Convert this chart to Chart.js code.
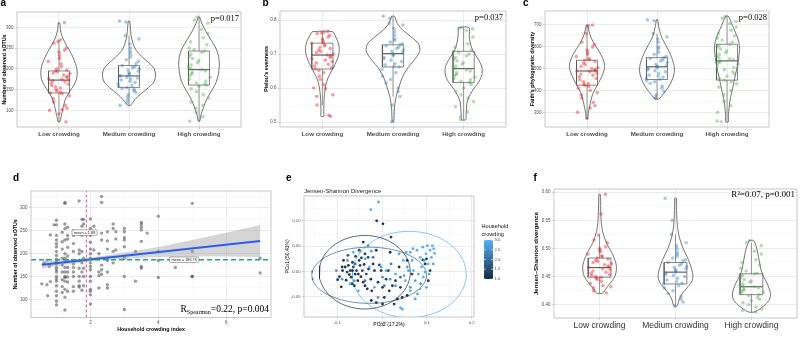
<!DOCTYPE html>
<html>
<head>
<meta charset="utf-8">
<script src="https://cdn.jsdelivr.net/npm/chart.js@4.4.0/dist/chart.umd.min.js"></script>
<style>
  body { margin: 0; background: #fff; }
  #wrap { position: relative; width: 800px; height: 341px; overflow: hidden; background: #fff; }
  canvas { position: absolute; }
</style>
</head>
<body>
<div id="wrap">
  <canvas id="chart-a" width="262" height="170" style="left:0px;top:0px"></canvas>
  <canvas id="chart-b" width="266" height="170" style="left:262px;top:0px"></canvas>
  <canvas id="chart-c" width="279" height="170" style="left:521px;top:0px"></canvas>
  <canvas id="chart-d" width="284" height="171" style="left:0px;top:170px"></canvas>
  <canvas id="chart-e" width="246" height="171" style="left:284px;top:170px"></canvas>
  <canvas id="chart-f" width="270" height="171" style="left:530px;top:170px"></canvas>
</div>
<script>
const groups = ["Low crowding", "Medium crowding", "High crowding"];

// ---------- a: number of observed sOTUs
const otusLow = [311, 270, 266, 262, 250, 245, 240, 232, 225, 218, 212, 205, 200, 197, 195, 193, 190, 188, 185, 182, 180, 177, 175, 173, 171, 169, 166, 163, 160, 157, 154, 150, 147, 144, 142, 140, 135, 128, 120, 112, 105, 102, 100, 92, 72];
const otusMedium = [315, 313, 280, 272, 260, 250, 242, 235, 228, 222, 218, 212, 208, 205, 203, 200, 197, 194, 190, 188, 186, 184, 182, 180, 178, 176, 173, 170, 167, 164, 160, 158, 155, 153, 150, 147, 143, 138, 132, 125, 118, 112];
const otusHigh = [325, 318, 310, 295, 285, 275, 265, 258, 250, 246, 243, 240, 235, 230, 225, 220, 215, 210, 205, 201, 198, 195, 192, 188, 184, 180, 175, 170, 166, 163, 161, 158, 152, 145, 138, 130, 120, 112, 105, 95, 85, 74];
const otusBox = [[142, 173, 195], [155, 183, 208], [161, 198, 243]];
const otusViolin = [
  [[311, 0.01], [295, 0.02], [280, 0.04], [265, 0.08], [250, 0.13], [235, 0.18], [220, 0.22], [205, 0.25], [190, 0.26], [175, 0.25], [160, 0.21], [145, 0.15], [130, 0.1], [115, 0.07], [100, 0.05], [85, 0.03], [72, 0.01]],
  [[315, 0.01], [300, 0.02], [280, 0.03], [260, 0.06], [245, 0.1], [230, 0.18], [215, 0.28], [200, 0.36], [185, 0.38], [170, 0.36], [155, 0.28], [140, 0.17], [125, 0.08], [112, 0.02]],
  [[325, 0.01], [310, 0.04], [290, 0.1], [270, 0.17], [250, 0.24], [230, 0.28], [210, 0.29], [190, 0.28], [170, 0.25], [150, 0.19], [130, 0.12], [110, 0.07], [90, 0.03], [74, 0.01]]
];
const otusTicks = [100, 150, 200, 250, 300];
const otusMinor = [75, 125, 175, 225, 275, 325];

// ---------- b: Pielou's evenness
const evenLow = [0.766, 0.764, 0.762, 0.76, 0.755, 0.75, 0.745, 0.74, 0.735, 0.732, 0.728, 0.724, 0.72, 0.716, 0.712, 0.708, 0.704, 0.70, 0.697, 0.694, 0.69, 0.686, 0.682, 0.678, 0.674, 0.67, 0.665, 0.66, 0.656, 0.652, 0.645, 0.635, 0.625, 0.61, 0.60, 0.598, 0.58, 0.575, 0.55, 0.52, 0.517];
const evenMedium = [0.811, 0.805, 0.79, 0.785, 0.775, 0.765, 0.755, 0.745, 0.74, 0.735, 0.73, 0.727, 0.724, 0.72, 0.716, 0.712, 0.708, 0.704, 0.701, 0.698, 0.695, 0.69, 0.686, 0.682, 0.678, 0.672, 0.668, 0.664, 0.662, 0.655, 0.645, 0.635, 0.625, 0.615, 0.60, 0.59, 0.575, 0.55, 0.501];
const evenHigh = [0.778, 0.776, 0.774, 0.77, 0.75, 0.73, 0.72, 0.712, 0.708, 0.705, 0.70, 0.695, 0.69, 0.685, 0.68, 0.675, 0.67, 0.665, 0.66, 0.657, 0.654, 0.65, 0.645, 0.64, 0.636, 0.632, 0.628, 0.624, 0.62, 0.616, 0.61, 0.60, 0.59, 0.58, 0.57, 0.56, 0.545, 0.53, 0.515, 0.507];
const evenBox = [[0.656, 0.697, 0.732], [0.662, 0.701, 0.727], [0.616, 0.657, 0.708]];
const evenViolin = [
  [[0.766, 0.14], [0.75, 0.19], [0.73, 0.23], [0.71, 0.24], [0.69, 0.22], [0.67, 0.18], [0.65, 0.13], [0.63, 0.08], [0.61, 0.05], [0.59, 0.035], [0.57, 0.025], [0.55, 0.022], [0.53, 0.02], [0.517, 0.02]],
  [[0.811, 0.02], [0.79, 0.06], [0.77, 0.14], [0.75, 0.26], [0.73, 0.36], [0.71, 0.38], [0.69, 0.33], [0.67, 0.25], [0.65, 0.18], [0.63, 0.13], [0.60, 0.08], [0.57, 0.04], [0.54, 0.02], [0.501, 0.01]],
  [[0.778, 0.075], [0.75, 0.08], [0.72, 0.11], [0.70, 0.16], [0.68, 0.22], [0.66, 0.26], [0.64, 0.26], [0.62, 0.22], [0.60, 0.15], [0.58, 0.09], [0.56, 0.05], [0.54, 0.04], [0.52, 0.035], [0.507, 0.03]]
];
const evenTicks = [0.5, 0.6, 0.7, 0.8];
const evenMinor = [0.55, 0.65, 0.75];

// ---------- c: Faith's phylogenetic diversity
const faithLow = [699, 695, 660, 620, 610, 598, 585, 575, 565, 555, 545, 540, 538, 532, 525, 518, 510, 505, 500, 495, 492, 489, 485, 480, 475, 470, 462, 455, 448, 440, 432, 428, 424, 418, 410, 400, 390, 380, 365, 345, 330, 320, 300, 272];
const faithMedium = [723, 718, 660, 645, 635, 620, 600, 590, 575, 565, 555, 550, 546, 540, 535, 528, 520, 514, 510, 508, 505, 500, 495, 490, 485, 478, 470, 465, 460, 455, 450, 446, 440, 432, 420, 410, 395, 380, 370, 362];
const faithHigh = [739, 730, 715, 705, 690, 675, 660, 650, 640, 630, 620, 611, 605, 598, 590, 580, 572, 565, 558, 550, 545, 540, 535, 530, 525, 520, 512, 505, 495, 485, 475, 465, 455, 447, 440, 430, 415, 400, 380, 350, 330, 300, 260, 257];
const faithBox = [[424, 489, 538], [450, 508, 550], [447, 535, 611]];
const faithViolin = [
  [[699, 0.01], [670, 0.03], [640, 0.06], [610, 0.11], [580, 0.17], [550, 0.22], [520, 0.25], [500, 0.25], [480, 0.23], [450, 0.19], [420, 0.14], [390, 0.09], [360, 0.06], [330, 0.04], [300, 0.02], [272, 0.01]],
  [[723, 0.01], [700, 0.02], [670, 0.04], [640, 0.07], [610, 0.12], [580, 0.17], [550, 0.21], [520, 0.24], [490, 0.25], [460, 0.23], [430, 0.19], [400, 0.13], [380, 0.08], [362, 0.03]],
  [[739, 0.02], [710, 0.06], [680, 0.1], [650, 0.14], [620, 0.17], [590, 0.18], [560, 0.17], [530, 0.16], [500, 0.14], [470, 0.12], [440, 0.1], [410, 0.08], [380, 0.06], [350, 0.04], [320, 0.03], [290, 0.02], [257, 0.02]]
];
const faithTicks = [300, 400, 500, 600, 700];
const faithMinor = [250, 350, 450, 550, 650, 750];

// ---------- d: sOTUs vs household crowding index
const crowdIndexLevels = [0.57, 0.64, 0.72, 0.74, 0.79, 0.82, 0.93, 1, 1.17, 1.25, 1.33, 1.5, 1.67, 1.75, 1.8, 2, 2.1, 2.25, 2.33, 2.5, 2.67, 2.75, 3, 3.33, 3.5, 3.67, 4, 4.5, 5, 7];
const otusAtLevel = [
  [134], [179], [132, 186], [108], [172], [241, 139], [263],
  [273, 263, 240, 230, 222, 215, 205, 196, 188, 183, 178, 170, 165, 160, 150, 145, 140, 130, 118, 108, 96, 88],
  [247, 226, 210, 190, 175, 160, 143, 128, 115],
  [312, 310, 265, 255, 230, 200, 190, 182, 170, 160, 150, 148, 140, 122, 105, 77],
  [258, 240, 232, 214, 195, 186, 170, 160, 149, 138, 118],
  [250, 240, 222, 205, 178, 170, 160, 150, 128, 118],
  [315, 208, 200, 185, 168, 150, 140, 130, 127],
  [275, 260, 240, 205, 180, 160, 120],
  [275, 265, 245, 190, 168, 150, 130],
  [276, 255, 240, 225, 210, 200, 190, 180, 172, 165, 150, 140, 122, 118, 110, 90],
  [260, 208], [200, 160, 152, 125], [325, 312, 245, 230, 175, 165, 155],
  [248, 228, 210, 190, 185, 160, 132, 125], [265, 255, 205, 180], [248, 232, 208],
  [255, 248, 235, 230, 215, 190, 150, 78], [140, 205], [268, 264, 258, 252, 227, 172, 168],
  [245], [282, 205, 185, 148], [170], [310, 205, 150, 150], [190, 158]
];
const fitX = [0.57, 7];
const fitY = [175.8, 227.9];
const bandX = [0.57, 1, 1.5, 2, 2.5, 3, 4, 5, 6, 7];
const bandLo = [168.3, 173.3, 178.4, 182.9, 186.5, 189, 192.6, 193.7, 193.8, 192.9];
const bandHi = [183.3, 185.3, 188.4, 191.9, 196.5, 202, 214.6, 229.7, 245.8, 262.9];
const meanIndex = 1.88;
const meanOtus = 186.76;

// ---------- e: PCoA, Jensen-Shannon divergence
const pco2 = [
  -0.012, 0.002, 0.020, -0.099, -0.091, -0.095, -0.088, -0.082, -0.078, -0.075,
  -0.071, -0.069, -0.066, -0.064, -0.060, -0.059, -0.057, -0.054, -0.051, -0.049,
  -0.047, -0.046, -0.044, -0.042, -0.040, -0.038, -0.035, -0.031, -0.030, -0.025,
  -0.023, -0.020, -0.017, -0.013, -0.009, -0.006, -0.002, 0.001, 0.005, 0.009,
  0.014, 0.018, 0.023, 0.027, 0.030, 0.038, 0.041, 0.045, 0.056, 0.067,
  0.099, 0.096, 0.091, 0.107, 0.103, 0.056, -0.086, -0.076, -0.067, -0.062,
  -0.053, -0.042, -0.033, -0.024, -0.013, -0.038, -0.051, -0.066, -0.073, -0.080,
  -0.089, 0.016, 0.001, 0.034,
  -0.008, -0.025, -0.102, -0.089, -0.077, -0.071, -0.064, -0.062, -0.053, -0.049,
  -0.038, -0.031, -0.028, -0.024, -0.017, -0.009, -0.002, 0.049, 0.052, 0.056,
  0.063, 0.063, 0.067, 0.070, 0.074, 0.078, 0.081, 0.085, 0.086, 0.088,
  0.091, 0.092, 0.094, 0.096, 0.098, 0.099, 0.101, 0.103, 0.105, 0.107,
  0.110, 0.112, 0.114, 0.115, 0.117, 0.079, 0.085, 0.074, 0.063, 0.045,
  0.041, 0.030, 0.018, 0.009, 0.001, 0.038, 0.047, 0.054, 0.059, 0.069,
  0.030,
  -0.038, -0.020, 0.020, 0.041, 0.005, -0.060
];
const pco1 = [
  0.100, 0.094, 0.068, -0.016, -0.030, -0.010, 0.002, 0.009, -0.001, 0.012,
  0.002, -0.011, 0.018, 0.009, -0.005, 0.030, 0.002, -0.018, 0.022, 0.012,
  -0.010, 0.027, 0.002, 0.058, 0.014, -0.028, -0.005, 0.028, 0.005, -0.015,
  -0.038, 0.015, 0.002, 0.042, -0.021, 0.013, 0.002, -0.031, -0.051, -0.015,
  0.002, 0.038, -0.028, -0.064, -0.018, 0.009, -0.031, -0.051, 0.022, -0.005,
  0.025, 0.015, 0.023, 0.002, -0.018, -0.047, 0.022, 0.032, -0.024, -0.028,
  -0.005, -0.021, -0.034, -0.057, -0.061, 0.035, 0.042, 0.002, -0.006, -0.017,
  0.009, -0.038, -0.064, -0.054,
  0.137, 0.122, 0.002, -0.015, 0.022, -0.024, 0.038, -0.018, -0.038, 0.040,
  0.025, 0.051, 0.009, 0.040, -0.031, -0.051, 0.009, -0.008, -0.018, 0.009,
  0.038, -0.031, 0.022, 0.002, -0.018, 0.042, -0.005, 0.028, -0.024, 0.009,
  0.048, -0.011, 0.022, -0.001, 0.035, -0.031, 0.051, 0.015, -0.005, 0.042,
  0.028, 0.051, 0.015, 0.045, 0.036, -0.044, -0.034, -0.054, -0.038, -0.074,
  -0.071, -0.028, -0.015, 0.002, -0.011, 0.035, 0.022, 0.038, 0.002, 0.045,
  -0.005,
  -0.018, 0.028, 0.015, -0.011, -0.028, 0.015
];
const pcoCrowding = [
  1.0, 1.0, 1.1, 1.0, 1.0, 1.2, 1.0, 1.0, 1.3, 1.0,
  1.0, 1.2, 1.0, 1.5, 1.0, 1.1, 1.0, 1.0, 1.0, 1.2,
  1.0, 1.0, 1.3, 1.0, 1.0, 1.0, 1.4, 1.2, 1.0, 1.0,
  1.0, 1.1, 1.0, 1.0, 1.0, 1.3, 1.0, 1.0, 1.0, 1.2,
  1.0, 1.0, 1.0, 1.0, 1.1, 1.0, 1.0, 1.0, 1.0, 1.2,
  1.0, 1.0, 1.1, 1.0, 1.0, 1.0, 1.0, 1.5, 1.0, 1.0,
  1.0, 1.0, 1.0, 1.0, 1.0, 1.0, 1.0, 1.0, 1.0, 1.0,
  1.0, 1.0, 1.0, 1.0,
  2.8, 2.9, 2.5, 2.7, 2.6, 2.8, 3.0, 2.6, 2.9, 2.7,
  2.8, 2.6, 3.0, 2.7, 2.9, 2.5, 2.8, 2.8, 3.0, 2.7,
  2.9, 2.6, 2.8, 3.0, 2.7, 2.9, 2.8, 3.0, 2.6, 2.9,
  2.8, 3.0, 2.7, 2.9, 3.0, 2.8, 2.9, 3.0, 2.8, 3.0,
  2.9, 3.0, 2.8, 3.0, 2.9, 2.8, 3.0, 2.7, 2.9, 2.8,
  3.0, 2.7, 2.6, 2.8, 2.5, 2.7, 2.9, 3.0, 2.6, 2.8,
  2.9,
  2.0, 2.0, 2.1, 2.0, 2.2, 1.9
];
// stat_ellipse per crowding level: centre, radii
const ellipseLevel = [1, 2, 3];
const ellipseCx = [-0.0385, -0.0287, 0.0608];
const ellipseCy = [-0.0013, -0.0073, -0.0057];
const ellipseRx = [0.1015, 0.1278, 0.1269];
const ellipseRy = [0.0724, 0.0553, 0.085];

// ---------- f: Jensen-Shannon divergence by group
const jsdLow = [0.596, 0.561, 0.524, 0.515, 0.51, 0.503, 0.50, 0.497, 0.494, 0.49, 0.487, 0.485, 0.483, 0.481, 0.479, 0.477, 0.475, 0.473, 0.471, 0.469, 0.467, 0.466, 0.464, 0.462, 0.46, 0.458, 0.456, 0.454, 0.452, 0.45, 0.449, 0.447, 0.445, 0.442, 0.438, 0.434, 0.432, 0.43, 0.425, 0.421];
const jsdMedium = [0.589, 0.55, 0.525, 0.51, 0.505, 0.50, 0.494, 0.49, 0.486, 0.483, 0.48, 0.478, 0.475, 0.473, 0.47, 0.468, 0.466, 0.464, 0.462, 0.46, 0.458, 0.456, 0.454, 0.452, 0.45, 0.447, 0.444, 0.441, 0.438, 0.437, 0.434, 0.43, 0.425, 0.42, 0.415, 0.41, 0.405, 0.398];
const jsdHigh = [0.514, 0.51, 0.505, 0.495, 0.49, 0.48, 0.475, 0.47, 0.465, 0.46, 0.456, 0.455, 0.452, 0.448, 0.445, 0.442, 0.44, 0.437, 0.435, 0.433, 0.432, 0.43, 0.428, 0.426, 0.424, 0.422, 0.42, 0.418, 0.416, 0.413, 0.41, 0.407, 0.404, 0.40, 0.396, 0.392, 0.39, 0.387];
const jsdBox = [[0.449, 0.466, 0.483], [0.437, 0.458, 0.475], [0.418, 0.432, 0.455]];
const jsdViolin = [
  [[0.596, 0.01], [0.57, 0.015], [0.55, 0.02], [0.53, 0.04], [0.51, 0.09], [0.50, 0.13], [0.49, 0.17], [0.48, 0.2], [0.47, 0.22], [0.46, 0.22], [0.45, 0.2], [0.44, 0.15], [0.43, 0.09], [0.421, 0.04]],
  [[0.589, 0.01], [0.56, 0.015], [0.54, 0.025], [0.52, 0.05], [0.50, 0.1], [0.48, 0.17], [0.46, 0.22], [0.45, 0.23], [0.44, 0.21], [0.43, 0.15], [0.42, 0.09], [0.41, 0.05], [0.398, 0.02]],
  [[0.514, 0.03], [0.50, 0.07], [0.48, 0.1], [0.46, 0.13], [0.45, 0.16], [0.44, 0.2], [0.43, 0.23], [0.42, 0.25], [0.41, 0.24], [0.40, 0.18], [0.39, 0.08], [0.387, 0.03]]
];
const jsdTicks = [0.40, 0.45, 0.50, 0.55, 0.60];
const jsdMinor = [0.425, 0.475, 0.525, 0.575];

/*
-------------------------------------------------------------------------
helpers
-------------------------------------------------------------------------
*/
const SANS = 'Arial, "Liberation Sans", sans-serif';
const SERIF = '"Liberation Serif", "Times New Roman", serif';
const groupColors = ["rgba(228,26,28,0.42)", "rgba(55,126,184,0.42)", "rgba(77,175,74,0.42)"];
const LOW_BLUE = [19, 43, 67];
const HIGH_BLUE = [86, 177, 247];

function crowdColor(c, a) {
  const t = Math.min(1, Math.max(0, (c - 1) / 2));
  const rgb = LOW_BLUE.map((v, k) => Math.round(v + (HIGH_BLUE[k] - v) * t));
  return "rgba(" + rgb.join(",") + "," + (a === undefined ? 1 : a) + ")";
}

// sideways spread of the points, like geom_jitter (fixed hash so every render is the same)
function jitter(i, g) {
  const h = Math.sin((i + 1) * 12.9898 + (g + 1) * 78.233) * 43758.5453;
  return (h - Math.floor(h) - 0.5) * 0.32;
}

function tickList(majors, minors) {
  return majors.map(v => ({ value: v }))
    .concat((minors || []).map(v => ({ value: v, minor: true })))
    .sort((a, b) => a.value - b.value);
}

const gridOpts = {
  color: c => (c.tick && c.tick.minor) ? "#f3f3f3" : "#e3e3e3",
  lineWidth: c => (c.tick && c.tick.minor) ? 0.5 : 0.7,
  tickLength: 2,
  tickColor: c => (c.tick && c.tick.minor) ? "rgba(0,0,0,0)" : "#b3b3b3",
  tickWidth: 0.6,
};

function axisY(o) {
  return {
    type: "linear",
    position: "left",
    min: o.min,
    max: o.max,
    afterBuildTicks: s => { s.ticks = tickList(o.majors, o.minors); },
    afterFit: s => { s.width = o.width; },
    ticks: {
      autoSkip: false,
      padding: 1.5,
      color: "#4d4d4d",
      font: { family: SANS, size: o.tickSize || 4.5 },
      callback: (v, i, t) => (t[i] && t[i].minor) ? "" : o.fmt(v),
    },
    grid: gridOpts,
    border: { display: false },
    title: {
      display: true,
      text: o.title,
      color: "#000",
      font: { family: SANS, size: o.titleSize, weight: o.titleWeight || "bold" },
      padding: { top: o.titlePad, bottom: 0 },
    },
  };
}

function axisX(o) {
  return {
    type: "linear",
    position: "bottom",
    min: o.min,
    max: o.max,
    afterBuildTicks: s => { s.ticks = tickList(o.majors, o.minors); },
    afterFit: s => { s.height = o.height; },
    ticks: {
      autoSkip: false,
      maxRotation: 0,
      minRotation: 0,
      padding: o.pad || 1,
      color: o.color || "#4d4d4d",
      font: o.font,
      callback: (v, i, t) => (t[i] && t[i].minor) ? "" : o.fmt(v),
    },
    grid: gridOpts,
    border: { display: false },
    title: o.title ? {
      display: true,
      text: o.title,
      color: "#000",
      font: { family: SANS, size: o.titleSize, weight: o.titleWeight || "bold" },
      padding: { top: 0, bottom: o.titlePad },
    } : { display: false },
  };
}

function lineSet(data, color, width, order, extra) {
  return Object.assign({
    type: "line",
    data: data,
    borderColor: color,
    borderWidth: width,
    pointRadius: 0,
    pointHoverRadius: 0,
    fill: false,
    tension: 0,
    showLine: true,
    order: order,
  }, extra || {});
}

function violinPath(c, prof) {
  const left = prof.map(([v, w]) => ({ x: c - w, y: v }));
  const right = prof.slice().reverse().map(([v, w]) => ({ x: c + w, y: v }));
  return left.concat(right, [left[0]]);
}

function drawRich(ctx, t) {
  const parts = t.parts || [{ text: t.text, font: t.font }];
  ctx.fillStyle = t.color || "#000";
  ctx.textBaseline = "alphabetic";
  ctx.textAlign = "left";
  let w = 0;
  parts.forEach(p => { ctx.font = p.font; w += ctx.measureText(p.text).width; });
  let x = t.align === "right" ? t.x - w : (t.align === "center" ? t.x - w / 2 : t.x);
  parts.forEach(p => {
    ctx.font = p.font;
    ctx.fillText(p.text, x, t.y + (p.dy || 0));
    x += ctx.measureText(p.text).width;
  });
}

function drawColorBar(ctx, cb) {
  const g = ctx.createLinearGradient(0, cb.y + cb.h, 0, cb.y);
  [1, 1.5, 2, 2.5, 3].forEach(v => g.addColorStop((v - 1) / 2, crowdColor(v)));
  ctx.fillStyle = g;
  ctx.fillRect(cb.x, cb.y, cb.w, cb.h);
  ctx.font = "4.2px " + SANS;
  ctx.textAlign = "left";
  ctx.textBaseline = "middle";
  cb.ticks.forEach(v => {
    const y = cb.y + cb.h - (v - cb.min) / (cb.max - cb.min) * cb.h;
    ctx.strokeStyle = "#fff";
    ctx.lineWidth = 0.6;
    ctx.beginPath();
    ctx.moveTo(cb.x, y); ctx.lineTo(cb.x + 2, y);
    ctx.moveTo(cb.x + cb.w - 2, y); ctx.lineTo(cb.x + cb.w, y);
    ctx.stroke();
    ctx.fillStyle = "#4d4d4d";
    ctx.fillText(v.toFixed(1), cb.x + cb.w + 1.5, y);
  });
  ctx.fillStyle = "#111";
  ctx.textBaseline = "alphabetic";
  ctx.font = "5.6px " + SANS;
  cb.title.forEach((line, k) => ctx.fillText(line, cb.x - 2.5, cb.titleY + k * 8));
}

// panel frame, notes, mean tags, colour bar
const decor = {
  id: "decor",
  afterDraw(chart, args, opts) {
    const ctx = chart.ctx;
    const a = chart.chartArea;
    ctx.save();
    ctx.strokeStyle = "#b8b8b8";
    ctx.lineWidth = 0.8;
    ctx.strokeRect(a.left, a.top, a.right - a.left, a.bottom - a.top);
    (opts.tags || []).forEach(t => {
      const px = chart.scales.x.getPixelForValue(t.x);
      const py = chart.scales.y.getPixelForValue(t.y);
      ctx.font = "3.8px " + SANS;
      const w = ctx.measureText(t.text).width + 4;
      const h = 5.6;
      ctx.fillStyle = "#fff";
      ctx.strokeStyle = "#555";
      ctx.lineWidth = 0.5;
      ctx.beginPath();
      if (ctx.roundRect) ctx.roundRect(px - w / 2, py - h / 2, w, h, 1.2);
      else ctx.rect(px - w / 2, py - h / 2, w, h);
      ctx.fill();
      ctx.stroke();
      ctx.fillStyle = "#222";
      ctx.textAlign = "center";
      ctx.textBaseline = "middle";
      ctx.fillText(t.text, px, py + 0.2);
    });
    if (opts.colorBar) drawColorBar(ctx, opts.colorBar);
    (opts.texts || []).forEach(t => drawRich(ctx, t));
    ctx.restore();
  },
};
Chart.register(decor);

function baseOptions(area, scales, decorOpts) {
  return {
    responsive: false,
    animation: false,
    devicePixelRatio: 1,
    layout: { padding: { top: area.top, right: area.right, left: 0, bottom: 0 } },
    scales: scales,
    plugins: {
      legend: { display: false },
      tooltip: { enabled: false },
      decor: decorOpts,
    },
  };
}

/*
-------------------------------------------------------------------------
violin + box + jitter panels (a, b, c, f)
-------------------------------------------------------------------------
*/
function violinChart(id, p) {
  const datasets = [];
  p.values.forEach((vals, g) => {
    const c = g + 1;
    datasets.push({
      type: "scatter",
      data: vals.map((v, i) => ({ x: c + jitter(i, g), y: v })),
      backgroundColor: groupColors[g],
      borderWidth: 0,
      pointRadius: 1.8,
      pointHoverRadius: 1.8,
      order: 0,
    });
    const q = p.boxes[g];
    const iqr = q[2] - q[0];
    const hiW = Math.max(...vals.filter(v => v <= q[2] + 1.5 * iqr));
    const loW = Math.min(...vals.filter(v => v >= q[0] - 1.5 * iqr));
    const h = 0.15;
    datasets.push(lineSet([{ x: c, y: q[2] }, { x: c, y: hiW }], "#555", 0.6, 1));
    datasets.push(lineSet([{ x: c, y: loW }, { x: c, y: q[0] }], "#555", 0.6, 1));
    datasets.push(lineSet([
      { x: c - h, y: q[0] }, { x: c + h, y: q[0] }, { x: c + h, y: q[2] },
      { x: c - h, y: q[2] }, { x: c - h, y: q[0] }], "#555", 0.7, 1));
    datasets.push(lineSet([{ x: c - h, y: q[1] }, { x: c + h, y: q[1] }], "#444", 1, 1));
    datasets.push(lineSet(violinPath(c, p.violins[g]), "#3a3a3a", 0.7, 2, { tension: 0.3 }));
  });

  const scales = {
    x: axisX({
      min: 0.4, max: 3.6, majors: [1, 2, 3], height: p.xHeight,
      fmt: v => groups[Math.round(v) - 1],
      font: p.xFont, color: p.xColor, pad: p.xPad,
    }),
    y: axisY({
      min: p.yMin, max: p.yMax, majors: p.yTicks, minors: p.yMinor,
      width: p.area.left, fmt: p.yFmt, title: p.yTitle,
      titleSize: p.titleSize, titlePad: p.titlePad,
    }),
  };
  new Chart(document.getElementById(id), {
    type: "scatter",
    data: { datasets: datasets },
    options: baseOptions(p.area, scales, { texts: p.texts }),
  });
}

const boldLabel = { family: SANS, size: 6.2, weight: "bold" };
const letterFont = "bold 10px " + SANS;
const noteFont = "8.5px " + SERIF;

violinChart("chart-a", {
  values: [otusLow, otusMedium, otusHigh], boxes: otusBox, violins: otusViolin,
  yMin: 60, yMax: 337, yTicks: otusTicks, yMinor: otusMinor, yFmt: v => String(v),
  yTitle: "Number of observed sOTUs", titleSize: 5.3, titlePad: 1.8,
  area: { left: 17, top: 12, right: 21 }, xHeight: 43, xFont: boldLabel, xPad: 1.5,
  texts: [
    { text: "a", font: letterFont, x: 0.5, y: 6 },
    { text: "p=0.017", font: noteFont, x: 239, y: 21, align: "right" },
  ],
});

violinChart("chart-b", {
  values: [evenLow, evenMedium, evenHigh], boxes: evenBox, violins: evenViolin,
  yMin: 0.4855, yMax: 0.8265, yTicks: evenTicks, yMinor: evenMinor, yFmt: v => v.toFixed(1),
  yTitle: "Pielou's evenness", titleSize: 5.3, titlePad: 1.8,
  area: { left: 18, top: 11, right: 22 }, xHeight: 43, xFont: boldLabel, xPad: 1.5,
  texts: [
    { text: "b", font: letterFont, x: 0.5, y: 6 },
    { text: "p=0.037", font: noteFont, x: 241, y: 20, align: "right" },
  ],
});

violinChart("chart-c", {
  values: [faithLow, faithMedium, faithHigh], boxes: faithBox, violins: faithViolin,
  yMin: 233, yMax: 763, yTicks: faithTicks, yMinor: faithMinor, yFmt: v => String(v),
  yTitle: "Faith's phylogenetic diversity", titleSize: 5.3, titlePad: 8.8,
  area: { left: 24, top: 11, right: 31 }, xHeight: 43, xFont: boldLabel, xPad: 1.5,
  texts: [
    { text: "c", font: letterFont, x: 2, y: 6 },
    { text: "p=0.028", font: noteFont, x: 246, y: 20, align: "right" },
  ],
});

violinChart("chart-f", {
  values: [jsdLow, jsdMedium, jsdHigh], boxes: jsdBox, violins: jsdViolin,
  yMin: 0.3766, yMax: 0.6055, yTicks: jsdTicks, yMinor: jsdMinor, yFmt: v => v.toFixed(2),
  yTitle: "Jensen\u2013Shannon divergence", titleSize: 6, titlePad: 2.4,
  area: { left: 24, top: 19, right: 3 }, xHeight: 23,
  xFont: { family: SANS, size: 8.5 }, xColor: "#333", xPad: 1,
  texts: [
    { text: "f", font: letterFont, x: 3.5, y: 11 },
    { text: "R\u00b2=0.07, p=0.001", font: "9px " + SERIF, x: 265, y: 27, align: "right" },
  ],
});

/*
-------------------------------------------------------------------------
d: sOTUs vs household crowding index
-------------------------------------------------------------------------
*/
(function () {
  const xMin = 0.25, xMax = 7.32, yMin = 60.5, yMax = 337;
  const pts = [];
  crowdIndexLevels.forEach((lvl, k) => otusAtLevel[k].forEach(v => pts.push({ x: lvl, y: v })));
  const datasets = [
    {
      type: "scatter", data: pts,
      backgroundColor: "rgba(60,60,60,0.5)", borderWidth: 0,
      pointRadius: 1.7, pointHoverRadius: 1.7, order: 3,
    },
    lineSet(bandX.map((x, i) => ({ x: x, y: bandHi[i] })), "rgba(0,0,0,0)", 0, 2,
      { fill: "+1", backgroundColor: "rgba(150,150,150,0.4)" }),
    lineSet(bandX.map((x, i) => ({ x: x, y: bandLo[i] })), "rgba(0,0,0,0)", 0, 2),
    lineSet(fitX.map((x, i) => ({ x: x, y: fitY[i] })), "#2f5cf0", 2, 1),
    lineSet([{ x: meanIndex, y: yMin }, { x: meanIndex, y: yMax }], "#d8418c", 0.9, 0,
      { borderDash: [3, 2] }),
    lineSet([{ x: xMin, y: meanOtus }, { x: xMax, y: meanOtus }], "#22a37c", 1.4, 0,
      { borderDash: [5, 3] }),
  ];
  const scales = {
    x: axisX({
      min: xMin, max: xMax, majors: [2, 4, 6], minors: [1, 3, 5, 7], height: 23.5,
      fmt: v => String(v), font: { family: SANS, size: 4.5 }, pad: 1,
      title: "Household crowding index", titleSize: 5.3, titlePad: 8.5,
    }),
    y: axisY({
      min: yMin, max: yMax, majors: otusTicks, minors: otusMinor, width: 31,
      fmt: v => String(v), title: "Number of observed sOTUs", titleSize: 5.3, titlePad: 12.8,
    }),
  };
  new Chart(document.getElementById("chart-d"), {
    type: "scatter",
    data: { datasets: datasets },
    options: baseOptions({ top: 21, right: 13 }, scales, {
      tags: [
        { x: 1.83, y: 246, text: "mean = " + meanIndex.toFixed(2) },
        { x: 4.76, y: meanOtus, text: "mean = " + meanOtus.toFixed(2) },
      ],
      texts: [
        { text: "d", font: letterFont, x: 13, y: 11 },
        {
          x: 269, y: 141.5, align: "right", parts: [
            { text: "R", font: "9.5px " + SERIF },
            { text: "Spearman", font: "6px " + SERIF, dy: 2 },
            { text: "=0.22, p=0.004", font: "9.5px " + SERIF },
          ],
        },
      ],
    }),
  });
})();

/*
-------------------------------------------------------------------------
e: PCoA Jensen-Shannon divergence
-------------------------------------------------------------------------
*/
(function () {
  const datasets = [{
    type: "scatter",
    data: pco2.map((x, i) => ({ x: x, y: pco1[i] })),
    backgroundColor: pcoCrowding.map(c => crowdColor(c, 0.95)),
    borderWidth: 0,
    pointRadius: 1.4,
    pointHoverRadius: 1.4,
    order: 0,
  }];
  ellipseLevel.forEach((lvl, k) => {
    const outline = [];
    for (let s = 0; s <= 72; s++) {
      const t = (s / 72) * Math.PI * 2;
      outline.push({ x: ellipseCx[k] + ellipseRx[k] * Math.cos(t), y: ellipseCy[k] + ellipseRy[k] * Math.sin(t) });
    }
    datasets.push(lineSet(outline, crowdColor(lvl === 2 ? 1.8 : lvl), 0.7, 1));
  });
  const scales = {
    x: axisX({
      min: -0.174, max: 0.205, majors: [-0.1, 0, 0.1, 0.2], minors: [-0.15, -0.05, 0.05, 0.15],
      height: 24, fmt: v => v.toFixed(1), font: { family: SANS, size: 4.2 }, pad: 1,
      title: "PCo2 (17.2%)", titleSize: 5, titleWeight: "normal", titlePad: 13,
    }),
    y: axisY({
      min: -0.0895, max: 0.1488, majors: [-0.05, 0, 0.05, 0.1], minors: [-0.075, -0.025, 0.025, 0.075, 0.125],
      width: 20, fmt: v => v.toFixed(2), tickSize: 4.2,
      title: "PCo1 (50.41%)", titleSize: 5, titleWeight: "normal", titlePad: 0.7,
    }),
  };
  new Chart(document.getElementById("chart-e"), {
    type: "scatter",
    data: { datasets: datasets },
    options: baseOptions({ top: 26, right: 56 }, scales, {
      colorBar: {
        x: 200, y: 70, w: 9, h: 39, min: 1, max: 3, ticks: [1, 1.5, 2, 2.5, 3],
        title: ["Household", "crowding"], titleY: 58,
      },
      texts: [
        { text: "e", font: letterFont, x: 2, y: 11 },
        { text: "Jensen-Shannon Divergence", font: "6px " + SANS, x: 20, y: 23, color: "#222" },
      ],
    }),
  });
})();
</script>
</body>
</html>
